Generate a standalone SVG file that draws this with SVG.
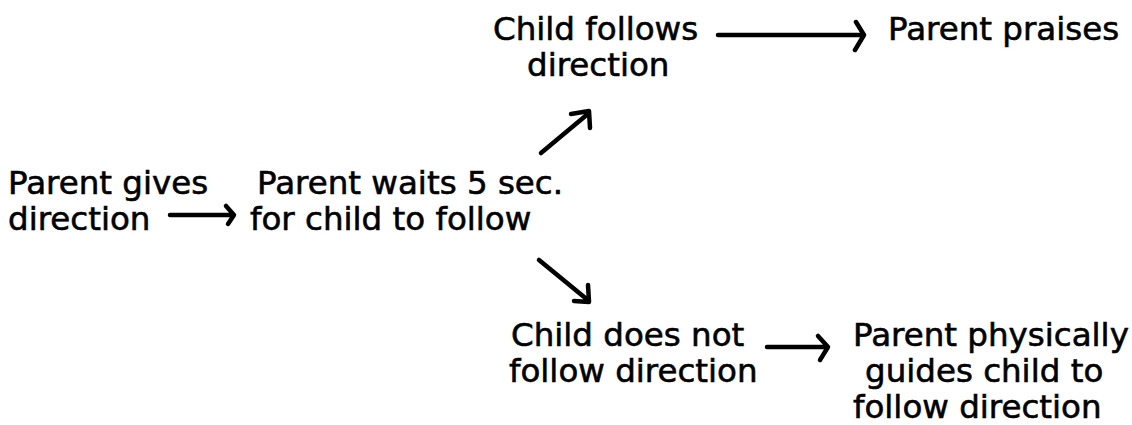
<svg xmlns="http://www.w3.org/2000/svg" width="1132" height="425" viewBox="0 0 1132 425">
<style>
text{font-family:"DejaVu Sans",Verdana,sans-serif;font-size:32.5px;fill:#000;stroke:#000;stroke-width:0.6;}
.c{fill:none;stroke:#000;stroke-width:4.5;stroke-linecap:round;stroke-linejoin:round;}
</style>
<rect width="1132" height="425" fill="#fff"/>
<g id="n1"><text x="8" y="194">Parent gives</text><text x="8" y="230">direction</text></g>
<g id="n2"><text x="257" y="194">Parent waits 5 sec.</text><text x="250" y="230">for child to follow</text></g>
<g id="n3"><text x="493" y="40">Child follows</text><text x="527" y="76">direction</text></g>
<g id="n4"><text x="888" y="40">Parent praises</text></g>
<g id="n5"><text x="511" y="346">Child does not</text><text x="509" y="382">follow direction</text></g>
<g id="n6"><text x="853" y="346">Parent physically</text><text x="865" y="382">guides child to</text><text x="853" y="418">follow direction</text></g>
<g id="connectors">
<path class="c" d="M170 215 H232 M226 206 L234 215 L228 224"/>
<path class="c" d="M541 153 L589 113 M571 114 L589 111 L590 128"/>
<path class="c" d="M539 260 L589 301 M588 285 L589 302 L574 301"/>
<path class="c" d="M718 35 H862 M856 22 L864 35 L855 50"/>
<path class="c" d="M767 347 H827 M818 336 L828 347 L820 360"/>
</g>
</svg>
